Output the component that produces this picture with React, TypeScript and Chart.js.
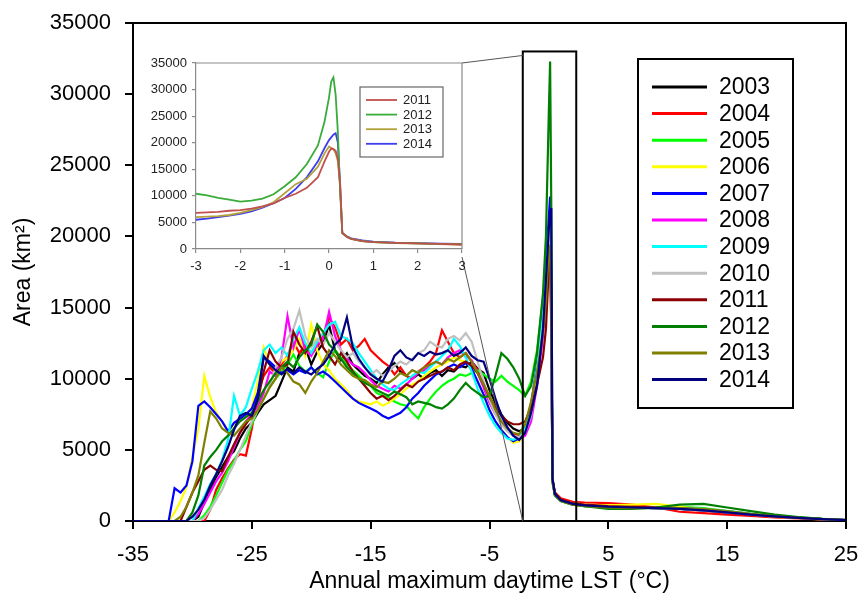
import React, { useEffect, useRef } from "react";
import { Chart, registerables } from "chart.js";

Chart.register(...registerables);

const FONT = "'Liberation Sans', Arial, Helvetica, sans-serif";

// ---------- main chart data ----------
const temps = [
  -35,
  -32, -31.5, -31, -30.5, -30, -29.5, -29, -28.5, -28, -27.5,
  -27, -26.5, -26, -25.5, -25, -24.5, -24, -23.5, -23, -22.5,
  -22, -21.5, -21, -20.5, -20, -19.5, -19, -18.5, -18, -17.5,
  -17, -16.5, -16, -15.5, -15, -14.5, -14, -13.5, -13, -12.5,
  -12, -11.5, -11, -10.5, -10, -9.5, -9, -8.5, -8, -7.5,
  -7, -6.5, -6, -5.5, -5, -4.5, -4, -3.5, -3, -2.5,
  -2, -1.5, -1, -0.5, -0.25, 0, 0.1, 0.2, 0.3, 0.5,
  1, 2, 3, 5, 7, 9, 11, 13, 15, 17,
  19, 21, 23, 25,
];

const years = ["2003", "2004", "2005", "2006", "2007", "2008", "2009", "2010", "2011", "2012", "2013", "2014"];
const yearColors = ["#000000", "#ff0000", "#00ff00", "#ffff00", "#0000ff", "#ff00ff", "#00ffff", "#c0c0c0", "#8b0000", "#008000", "#808000", "#000080"];

const area2003 = [
  0,
  0, 0, 0, 0, 0, 300, 1300, 2200, 3100, 3800,
  4500, 4900, 5800, 6500, 6900, 7600, 8200, 8500, 8800, 9800,
  10800, 10500, 11800, 12200, 11000, 11900, 12500, 13800, 12000, 11300,
  11800, 11000, 10600, 10200, 10000, 9700, 10300, 10800, 11100, 10500,
  10200, 10000, 10300, 10000, 10400, 10600, 10200, 10600, 10500, 10900,
  10800, 11200, 10700, 10400, 9200, 8300, 7500, 6900, 6500, 6300,
  6500, 7800, 10600, 14200, 16500, 19500, 20200, 14000, 2800, 1900,
  1500, 1200, 1100, 1000, 950, 900, 850, 750, 600, 450,
  320, 220, 130, 60,
];
const area2004 = [
  0,
  0, 0, 0, 0, 0, 0, 0, 800, 2200, 3000,
  3700, 4300, 4700, 4600, 6500, 9000, 10200, 10800, 10400, 11000,
  11600, 12600, 11800, 12400, 11700, 12200, 13000, 14300, 13600, 12400,
  12800, 12000, 12300, 12800, 12000, 11600, 11200, 10900, 10300, 10800,
  10200, 10000, 10500, 10800, 11200, 11800, 13400, 12600, 11800, 11500,
  11800, 11200, 10600, 9500, 8400, 7600, 6800, 6400, 6100, 6000,
  6300, 7600, 10200, 13600, 16000, 18800, 19500, 13000, 2900, 2000,
  1600, 1350, 1300, 1250, 1150, 950, 650, 550, 450, 350,
  250, 180, 120, 50,
];
const area2005 = [
  0,
  0, 0, 0, 0, 0, 0, 400, 1000, 1800, 2700,
  3600, 4200, 5000, 5600, 6800, 7800, 8600, 9400, 10000, 10500,
  11000, 11700, 10900, 10500, 10800, 10400, 10100, 11200, 12000, 11500,
  11000, 10600, 10200, 9800, 9500, 9000, 8800, 8700, 8400, 8200,
  8100, 7600, 7200, 8000, 8600, 9100, 9500, 9800, 10000, 10300,
  10200, 10400, 10600, 10300, 10000, 9800, 10200, 9800, 9500, 9200,
  8800, 9800, 12000, 15500, 18000, 20500, 21000, 14500, 2700, 1800,
  1400, 1150, 1050, 950, 900, 950, 1000, 900, 700, 500,
  350, 250, 150, 60,
];
const area2006 = [
  0,
  0, 600, 1400, 2400, 4500, 6500, 10200, 8700, 7600, 7000,
  6300, 6800, 7200, 7400, 8000, 9800, 12200, 11000, 10600, 11200,
  11500, 12000, 12800, 11600, 13800, 12000, 11000, 10600, 10000, 9600,
  9200, 8600, 8400, 8300, 8200, 8400, 8100, 8300, 8600, 8900,
  9300, 9600, 9800, 10200, 10500, 10800, 11000, 11200, 11500, 11300,
  11200, 10600, 9800, 8800, 7800, 7000, 6400, 5900, 5500, 5600,
  6200, 7800, 10500, 14000, 16800, 19500, 20000, 13500, 2700, 1850,
  1450, 1250, 1150, 1100, 1150, 1200, 1000, 800, 650, 450,
  300, 200, 120, 50,
];
const area2007 = [
  0,
  0, 2300, 2000, 2500, 4200, 8100, 8400, 8000, 7500, 7000,
  6300, 6900, 7200, 7500, 7900, 9000, 11500, 11200, 10800, 10400,
  10600, 10300, 10600, 10400, 10800, 10300, 10500, 10200, 9800, 9400,
  9000, 8600, 8300, 8100, 7900, 7700, 7400, 7200, 7400, 7600,
  8000, 8600, 9000, 9500, 9900, 10300, 10500, 10800, 11000, 10800,
  11100, 10700, 9800, 8900, 7800, 7000, 6400, 5900, 5600, 5800,
  6500, 8200, 11000, 15000, 18000, 21500, 22800, 15500, 2900, 1900,
  1450, 1200, 1100, 1000, 950, 900, 850, 750, 600, 450,
  320, 220, 130, 60,
];
const area2008 = [
  0,
  0, 0, 0, 0, 0, 500, 1200, 2000, 2800, 3400,
  4200, 5200, 6200, 7000, 7500, 8000, 9000, 10500, 10200, 11500,
  14400, 12200, 13500, 12000, 11600, 12400, 12800, 14700, 13000, 12000,
  11400, 11000, 10800, 10400, 9900, 9500, 9300, 9100, 9500, 9300,
  9600, 10000, 10400, 10600, 10900, 11200, 11000, 11500, 11800, 12000,
  11600, 11300, 10400, 9400, 8300, 7500, 6900, 6400, 6000, 5800,
  6000, 7000, 9500, 13000, 15500, 19000, 20000, 13500, 2800, 1900,
  1450, 1200, 1100, 1000, 950, 950, 900, 800, 650, 470,
  330, 220, 130, 60,
];
const area2009 = [
  0,
  0, 0, 0, 0, 0, 900, 1700, 2600, 3300, 4300,
  5700, 8800, 7400, 8000, 9300, 10500, 12000, 12400, 11800, 12200,
  11600, 12800, 13600, 12500, 11800, 12600, 13200, 13800, 14000, 13000,
  12800, 12500, 11800, 11200, 10600, 10000, 9600, 9300, 9200, 9600,
  9900, 10200, 10500, 10400, 10800, 11200, 11600, 12000, 12800, 12300,
  11500, 10500, 9300, 8300, 7400, 6700, 6200, 5800, 5700, 5900,
  6500, 8000, 10800, 14500, 17500, 20500, 21000, 14500, 2800, 1850,
  1400, 1150, 1050, 950, 900, 900, 900, 850, 700, 500,
  340, 230, 140, 60,
];
const area2010 = [
  0,
  0, 0, 0, 0, 0, 0, 200, 800, 1500, 2200,
  3200, 4000, 5000, 6000, 7000, 7800, 8600, 9500, 10800, 11500,
  12800, 13500, 14800, 13000, 12200, 12800, 12400, 13200, 12600, 12000,
  11500, 11800, 11200, 10800, 10300, 10600, 10200, 10500, 10900, 11200,
  11000, 11400, 11800, 12000, 12600, 12300, 12200, 12800, 13000, 12700,
  13200, 12600, 11200, 9800, 8500, 7500, 6800, 6300, 6000, 5900,
  6200, 7400, 10000, 13800, 16500, 19800, 20500, 14000, 2800, 1900,
  1450, 1200, 1100, 1000, 950, 900, 850, 750, 620, 460,
  320, 220, 130, 60,
];
const area2011 = [
  0,
  0, 0, 0, 1000, 2000, 2800, 3600, 3900, 3600, 3500,
  4500, 5400, 6200, 6800, 7400, 8400, 10500, 12000, 11200, 10800,
  11000, 13300, 12400, 11800, 12600, 13700, 12200, 11600, 11000, 11800,
  11200, 10500, 10000, 9500, 9000, 8600, 8800, 8500, 8800, 9200,
  9600, 9400, 9800, 10000, 10200, 10400, 10500, 10800, 10600, 11000,
  11200, 10900, 10400, 9600, 8700, 8000, 7400, 7000, 6800, 6800,
  7000, 8000, 9600, 11500, 13500, 18000, 18900, 15000, 3000, 2000,
  1500, 1250, 1150, 1050, 1000, 950, 900, 800, 650, 470,
  330, 220, 130, 60,
];
const area2012 = [
  0,
  0, 0, 0, 0, 600, 1800, 3900, 4500, 5000, 5600,
  6000, 6500, 7000, 7300, 7600, 8400, 9200, 9800, 10400, 10800,
  11200, 10800, 11500, 12000, 12400, 13800, 13300, 12400, 12000, 11400,
  10800, 10400, 10000, 9700, 9500, 9200, 9000, 8800, 9100, 8900,
  8700, 8200, 8400, 8300, 8200, 8000, 7900, 8200, 8600, 9200,
  9700, 9300, 9000, 8700, 8800, 10200, 11800, 11400, 10800, 10000,
  8800, 9500, 11800, 16000, 20000, 29000, 32300, 22000, 2800, 1800,
  1400, 1150, 1050, 850, 850, 950, 1150, 1200, 950, 700,
  450, 280, 150, 60,
];
const area2013 = [
  0,
  0, 0, 300, 1000, 2000, 3200, 5500, 7700, 7200, 6500,
  6200, 6000, 6500, 7000, 7200, 7800, 8600, 9400, 10000, 10800,
  10400, 9800, 9600, 9000, 9800, 10400, 11200, 12000, 11600, 11000,
  10600, 10200, 10000, 9900, 9600, 9400, 9800, 9700, 10000, 10400,
  10200, 10600, 10400, 10800, 11000, 11200, 11000, 11400, 11200, 11500,
  11800, 11200, 10400, 9600, 8800, 7800, 7000, 6500, 6200, 6100,
  6800, 8400, 10500, 13200, 15500, 19400, 18700, 14500, 2800, 1850,
  1400, 1150, 1050, 950, 900, 900, 900, 850, 700, 500,
  340, 230, 140, 60,
];
const area2014 = [
  0,
  0, 0, 0, 0, 300, 800, 1500, 2500, 3300, 4200,
  5200, 6400, 7400, 7600, 7400, 8600, 11600, 11000, 10600, 10300,
  10700, 10400, 10800, 10500, 10300, 10700, 11000, 11600, 12400, 12800,
  14300, 12200, 11400, 10800, 10300, 10000, 9800, 10600, 11600, 12000,
  11500, 11300, 11800, 11600, 11900, 11700, 11800, 12000, 11600, 11800,
  12200, 11600, 11300, 11200, 10000, 8600, 7400, 6600, 6000, 5700,
  6200, 7600, 9500, 13500, 17000, 20600, 21500, 22000, 3000, 1900,
  1450, 1200, 1100, 1000, 950, 900, 850, 750, 600, 450,
  320, 220, 130, 60,
];
const areaByYear = [area2003, area2004, area2005, area2006, area2007, area2008, area2009, area2010, area2011, area2012, area2013, area2014];

// main axes
const xMin = -35, xMax = 25, xStep = 10;
const yMin = 0, yMax = 35000, yStep = 5000;
const zoomRange = [-2.2, 2.3];
const zoomTop = 33000;

// ---------- inset data ----------
const insetTemps = [-3, -2.75, -2.5, -2.25, -2, -1.75, -1.5, -1.25, -1, -0.75, -0.5, -0.25, -0.1, 0, 0.05, 0.1, 0.15, 0.2, 0.25, 0.3, 0.4, 0.5, 0.75, 1, 1.5, 2, 2.5, 3];
const insetYears = ["2011", "2012", "2013", "2014"];
const insetColors = ["#c0504d", "#3aac3a", "#b3a23c", "#3c3cf0"];
const inset2011 = [6800, 6900, 7000, 7200, 7300, 7600, 8000, 8600, 9600, 10400, 11500, 13500, 16500, 18300, 18900, 18800, 18500, 17000, 12500, 3000, 2300, 1900, 1500, 1300, 1150, 1050, 950, 850];
const inset2012 = [10400, 10100, 9600, 9300, 8900, 9100, 9500, 10300, 11800, 13500, 16000, 19500, 24000, 28500, 31500, 32300, 29000, 22000, 11000, 3000, 2300, 1900, 1500, 1300, 1150, 1050, 950, 900];
const inset2013 = [6000, 6100, 6200, 6400, 6800, 7300, 7900, 8800, 10500, 12200, 13200, 15500, 18000, 19300, 19000, 18800, 18000, 16500, 12000, 3000, 2300, 1900, 1500, 1300, 1100, 1000, 900, 800];
const inset2014 = [5500, 5700, 6000, 6300, 6600, 7100, 7800, 8600, 9600, 11300, 13500, 16500, 19000, 20500, 21000, 21500, 21800, 20000, 12000, 3000, 2400, 2000, 1600, 1400, 1200, 1100, 1000, 950];
const insetByYear = [inset2011, inset2012, inset2013, inset2014];
const insetXMin = -3, insetXMax = 3, insetXStep = 1;

// layout
const W = 859, H = 595;
const INSET_LEFT = 140, INSET_TOP = 45, INSET_W = 330, INSET_H = 240;

const noPad = (s: any) => {
  s.paddingTop = 0;
  s.paddingBottom = 0;
  s.paddingLeft = 0;
  s.paddingRight = 0;
};

export default function App() {
  const mainRef = useRef<HTMLCanvasElement>(null);
  const insetRef = useRef<HTMLCanvasElement>(null);

  useEffect(() => {
    const insetDecor = {
      id: "insetDecor",
      afterDatasetsDraw(chart: any) {
        const { ctx, chartArea: a } = chart;
        ctx.save();
        ctx.strokeStyle = "#8a8a8a";
        ctx.lineWidth = 1.2;
        ctx.beginPath();
        ctx.moveTo(a.left, a.top);
        ctx.lineTo(a.right, a.top);
        ctx.lineTo(a.right, a.bottom);
        ctx.stroke();
        // legend
        const bx = a.left + 164, by = a.top + 24, bw = 83, bh = 70;
        ctx.strokeStyle = "#666";
        ctx.lineWidth = 1.2;
        ctx.fillStyle = "#fff";
        ctx.fillRect(bx, by, bw, bh);
        ctx.strokeRect(bx, by, bw, bh);
        ctx.font = `13px ${FONT}`;
        ctx.textBaseline = "middle";
        chart.data.datasets.forEach((ds: any, i: number) => {
          const ry = by + 13 + i * 14.6;
          ctx.strokeStyle = ds.borderColor;
          ctx.lineWidth = 1.8;
          ctx.beginPath();
          ctx.moveTo(bx + 6, ry);
          ctx.lineTo(bx + 37, ry);
          ctx.stroke();
          ctx.fillStyle = "#222";
          ctx.fillText(ds.label, bx + 43, ry + 0.5);
        });
        ctx.restore();
      },
    };

    const inset = new Chart(insetRef.current as HTMLCanvasElement, {
      type: "line",
      data: {
        datasets: insetYears.map((yr, i) => ({
          label: yr,
          data: insetTemps.map((t, j) => ({ x: t, y: insetByYear[i][j] })),
          borderColor: insetColors[i],
          backgroundColor: insetColors[i],
          borderWidth: 1.8,
          pointRadius: 0,
          tension: 0,
          fill: false,
        })),
      },
      options: {
        responsive: false,
        animation: false,
        layout: { padding: { left: 0, top: 18, right: 8, bottom: 0 } },
        plugins: { legend: { display: false }, tooltip: { enabled: false } },
        scales: {
          x: {
            type: "linear",
            min: insetXMin,
            max: insetXMax,
            afterFit: (s: any) => { s.height = 36; noPad(s); },
            ticks: { stepSize: insetXStep, maxRotation: 0, autoSkip: false, color: "#222", padding: 6, font: { family: FONT, size: 13 }, callback: (v: any) => String(v) },
            grid: { display: true, drawOnChartArea: false, drawTicks: true, tickLength: 4, color: "#8a8a8a", lineWidth: 1.2 },
            border: { display: true, color: "#8a8a8a", width: 1.2 },
          },
          y: {
            min: yMin,
            max: yMax,
            afterFit: (s: any) => { s.width = 56; noPad(s); },
            ticks: { stepSize: yStep, color: "#222", padding: 5, font: { family: FONT, size: 13 }, callback: (v: any) => String(v) },
            grid: { display: true, drawOnChartArea: false, drawTicks: true, tickLength: 4, color: "#8a8a8a", lineWidth: 1.2 },
            border: { display: true, color: "#8a8a8a", width: 1.2 },
          },
        },
      },
      plugins: [insetDecor],
    } as any);

    const mainDecor = {
      id: "mainDecor",
      afterDatasetsDraw(chart: any) {
        const { ctx, chartArea: a, scales } = chart;
        const xs = scales.x, ys = scales.y;
        ctx.save();
        ctx.strokeStyle = "#000";
        ctx.lineWidth = 2;
        ctx.beginPath();
        ctx.moveTo(a.left, a.top);
        ctx.lineTo(a.right, a.top);
        ctx.lineTo(a.right, a.bottom);
        ctx.stroke();
        // zoom box
        const x0 = xs.getPixelForValue(zoomRange[0]);
        const x1 = xs.getPixelForValue(zoomRange[1]);
        const yT = ys.getPixelForValue(zoomTop);
        const yB = ys.getPixelForValue(0);
        ctx.strokeRect(x0, yT, x1 - x0, yB - yT);
        // connectors to the inset
        const ia = inset.chartArea;
        if (ia) {
          ctx.strokeStyle = "#555";
          ctx.lineWidth = 1;
          ctx.beginPath();
          ctx.moveTo(INSET_LEFT + ia.right, INSET_TOP + ia.top);
          ctx.lineTo(x0, yT + 4);
          ctx.moveTo(INSET_LEFT + ia.right, INSET_TOP + ia.bottom + 8);
          ctx.lineTo(x0, yB);
          ctx.stroke();
        }
        // legend
        const lx = a.left + 505, ly = a.top + 36, lw = 155, lh = 349;
        ctx.strokeStyle = "#000";
        ctx.lineWidth = 2;
        ctx.fillStyle = "#fff";
        ctx.fillRect(lx, ly, lw, lh);
        ctx.strokeRect(lx, ly, lw, lh);
        ctx.font = `23px ${FONT}`;
        ctx.textBaseline = "middle";
        chart.data.datasets.forEach((ds: any, i: number) => {
          const ry = ly + 28 + i * 26.6;
          ctx.strokeStyle = ds.borderColor;
          ctx.lineWidth = 3;
          ctx.beginPath();
          ctx.moveTo(lx + 14, ry);
          ctx.lineTo(lx + 69, ry);
          ctx.stroke();
          ctx.fillStyle = "#000";
          ctx.fillText(ds.label, lx + 81, ry + 1);
        });
        ctx.restore();
      },
    };

    const main = new Chart(mainRef.current as HTMLCanvasElement, {
      type: "line",
      data: {
        datasets: years.map((yr, i) => ({
          label: yr,
          data: temps.map((t, j) => ({ x: t, y: areaByYear[i][j] })),
          borderColor: yearColors[i],
          backgroundColor: yearColors[i],
          borderWidth: 2.2,
          pointRadius: 0,
          tension: 0,
          fill: false,
          order: years.length - i,
        })),
      },
      options: {
        responsive: false,
        animation: false,
        layout: { padding: { left: 0, top: 23, right: 13, bottom: 0 } },
        plugins: { legend: { display: false }, tooltip: { enabled: false } },
        scales: {
          x: {
            type: "linear",
            min: xMin,
            max: xMax,
            afterFit: (s: any) => { s.height = 74; noPad(s); },
            ticks: { stepSize: xStep, maxRotation: 0, autoSkip: false, color: "#000", padding: 13, font: { family: FONT, size: 22 }, callback: (v: any) => String(v) },
            grid: { display: true, drawOnChartArea: false, drawTicks: true, tickLength: 8, color: "#000", lineWidth: 2 },
            border: { display: true, color: "#000", width: 2 },
            title: { display: true, text: "Annual maximum daytime LST (°C)", color: "#000", font: { family: FONT, size: 23 }, padding: { top: 0, bottom: 0 } },
          },
          y: {
            min: yMin,
            max: yMax,
            afterFit: (s: any) => { s.width = 133; noPad(s); },
            ticks: { stepSize: yStep, color: "#000", padding: 14, font: { family: FONT, size: 22 }, callback: (v: any) => String(v) },
            grid: { display: true, drawOnChartArea: false, drawTicks: true, tickLength: 8, color: "#000", lineWidth: 2 },
            border: { display: true, color: "#000", width: 2 },
            title: { display: true, text: "Area (km²)", color: "#000", font: { family: FONT, size: 23 }, padding: { top: 10, bottom: 0 } },
          },
        },
      },
      plugins: [mainDecor],
    } as any);

    return () => {
      main.destroy();
      inset.destroy();
    };
  }, []);

  return (
    <div style={{ position: "fixed", left: 0, top: 0, width: W, height: H, background: "#fff", overflow: "hidden" }}>
      <canvas ref={mainRef} width={W} height={H} style={{ position: "absolute", left: 0, top: 0, width: W, height: H }} />
      <canvas ref={insetRef} width={INSET_W} height={INSET_H} style={{ position: "absolute", left: INSET_LEFT, top: INSET_TOP, width: INSET_W, height: INSET_H }} />
    </div>
  );
}
